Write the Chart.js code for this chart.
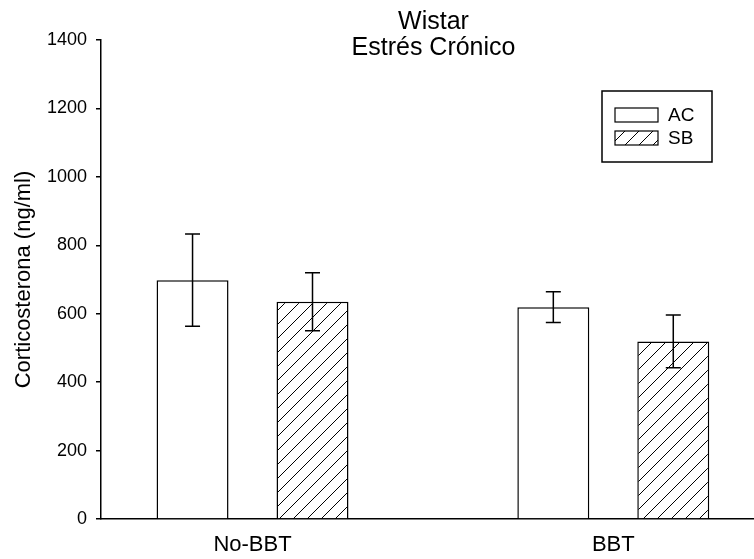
<!DOCTYPE html>
<html lang="es">
<head>
<meta charset="UTF-8">
<title>Wistar - Estrés Crónico</title>
<script src="https://cdn.jsdelivr.net/npm/chart.js"></script>
<style>
  html, body { margin: 0; padding: 0; background: #fff; }
  #wrap { width: 754px; height: 559px; position: relative; }
</style>
</head>
<body>
<div id="wrap"><canvas id="myChart"></canvas></div>
<script>
// datos
const grupos = ['No-BBT', 'BBT'];
const series = ['AC', 'SB'];
const mediaAC = [698, 619];
const errorAC = [135, 45];
const mediaSB = [635, 519];
const errorSB = [85, 77];
const titulo = ['Wistar', 'Estrés Crónico'];
const tituloY = 'Corticosterona (ng/ml)';
const yMin = 0, yMax = 1400, yPaso = 200;

const FUENTE = "'Liberation Sans', Arial, sans-serif";

const ctx = document.querySelector('#myChart').getContext('2d');

// trama rayada (SB)
function rayado() {
    const c = document.createElement('canvas');
    c.width = 14; c.height = 14;
    const g = c.getContext('2d');
    g.fillStyle = '#fff';
    g.fillRect(0, 0, 14, 14);
    g.strokeStyle = '#000';
    g.lineWidth = 1;
    g.beginPath();
    g.moveTo(0, 14); g.lineTo(14, 0);
    g.moveTo(-1, 1); g.lineTo(1, -1);
    g.moveTo(13, 15); g.lineTo(15, 13);
    g.stroke();
    return ctx.createPattern(c, 'repeat');
}

// barras de error
const barrasError = {
    id: 'barrasError',
    afterDatasetsDraw(chart) {
        const c = chart.ctx, y = chart.scales.y;
        c.save();
        c.strokeStyle = '#000';
        c.lineWidth = 1.5;
        chart.data.datasets.forEach((ds, i) => {
            chart.getDatasetMeta(i).data.forEach((bar, j) => {
                const v = ds.data[j].y, e = ds.errores[j];
                const arriba = y.getPixelForValue(v + e);
                const abajo = y.getPixelForValue(v - e);
                c.beginPath();
                c.moveTo(bar.x, arriba); c.lineTo(bar.x, abajo);
                c.moveTo(bar.x - 7.5, arriba); c.lineTo(bar.x + 7.5, arriba);
                c.moveTo(bar.x - 7.5, abajo); c.lineTo(bar.x + 7.5, abajo);
                c.stroke();
            });
        });
        c.restore();
    }
};

// titulo y leyenda con recuadro
const extras = {
    id: 'extras',
    afterDraw(chart) {
        const c = chart.ctx, area = chart.chartArea;
        c.save();
        c.fillStyle = '#000';
        c.textAlign = 'center';
        c.textBaseline = 'alphabetic';
        c.font = '25px ' + FUENTE;
        const cx = (area.left + area.right) / 2 + 6;
        c.fillText(titulo[0], cx, area.top - 11);
        c.fillText(titulo[1], cx, area.top + 15);

        // leyenda
        const lx = area.right - 152, ly = area.top + 51;
        c.strokeStyle = '#000';
        c.lineWidth = 1.5;
        c.strokeRect(lx, ly, 110, 71);
        c.font = '19px ' + FUENTE;
        c.textAlign = 'left';
        c.textBaseline = 'middle';
        chart.data.datasets.forEach((ds, i) => {
            const sy = ly + 17 + i * 23;
            c.fillStyle = ds.backgroundColor;
            c.fillRect(lx + 13, sy, 43, 14);
            c.lineWidth = 1.2;
            c.strokeRect(lx + 13, sy, 43, 14);
            c.fillStyle = '#000';
            c.fillText(ds.label, lx + 66, sy + 7.5);
        });
        c.restore();
    }
};

const data = {
    datasets: [
        {
            label: series[0],
            data: mediaAC.map((v, i) => ({ x: i + 1, y: v })),
            errores: errorAC,
            backgroundColor: '#fff',
            borderColor: '#000',
            borderWidth: 1.5
        },
        {
            label: series[1],
            data: mediaSB.map((v, i) => ({ x: i + 1, y: v })),
            errores: errorSB,
            backgroundColor: rayado(),
            borderColor: '#000',
            borderWidth: 1.5
        }
    ]
};

const options = {
    responsive: true,
    maintainAspectRatio: false,
    animation: false,
    categoryPercentage: 0.665,
    barPercentage: 0.6,
    layout: { padding: { top: 40, right: 0, bottom: 0, left: 0 } },
    plugins: {
        legend: { display: false },
        title: { display: false },
        tooltip: { enabled: false }
    },
    scales: {
        x: {
            type: 'linear',
            min: 0.58,
            max: 2.39,
            offset: false,
            grid: { display: false, drawTicks: false, offset: false },
            border: { display: true, color: '#000', width: 1.5 },
            afterBuildTicks: s => { s.ticks = grupos.map((g, i) => ({ value: i + 1 })); },
            afterFit: s => { s.height = 40; },
            ticks: {
                autoSkip: false,
                maxRotation: 0,
                padding: 13,
                color: '#000',
                font: { family: FUENTE, size: 22 },
                callback: v => grupos[Math.round(v) - 1]
            }
        },
        y: {
            min: yMin,
            max: yMax,
            grid: {
                display: true,
                drawOnChartArea: false,
                drawTicks: true,
                tickLength: 5,
                color: '#000',
                lineWidth: 1.5
            },
            border: { display: true, color: '#000', width: 1.5 },
            afterFit: s => { s.width = 101; },
            ticks: {
                stepSize: yPaso,
                padding: 9,
                color: '#000',
                font: { family: FUENTE, size: 18 },
                callback: v => String(v)
            },
            title: {
                display: true,
                text: tituloY,
                color: '#000',
                padding: { top: 11, bottom: 0 },
                font: { family: FUENTE, size: 22 }
            }
        }
    }
};

new Chart(ctx, {
    type: 'bar',
    data: data,
    options: options,
    plugins: [barrasError, extras]
});
</script>
</body>
</html>
